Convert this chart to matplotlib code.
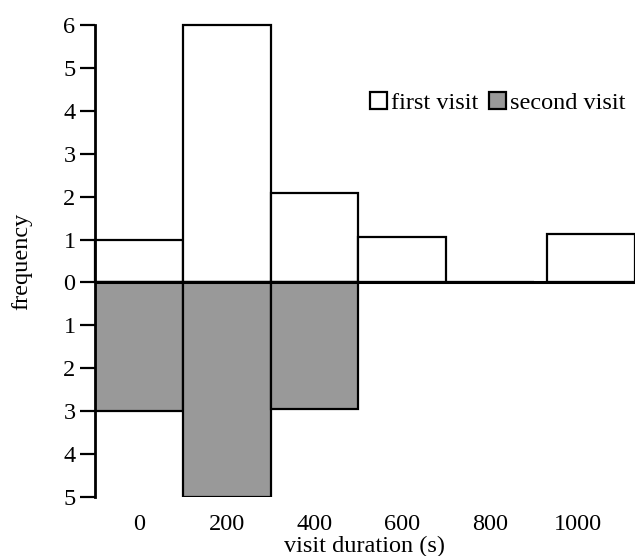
import matplotlib
matplotlib.use("Agg")
import matplotlib.pyplot as plt
from matplotlib.patches import Patch

plt.rcParams['font.family'] = ['Liberation Serif', 'DejaVu Serif']

# data
bin_centers = [0, 200, 400, 600, 800, 1030]
first_visit = [1, 6, 2.08, 1.05, 0, 1.12]
second_centers = [0, 200, 400]
second_visit = [3, 5, 2.95]
x_ticks = [0, 200, 400, 600, 800, 1000]
y_ticks = [-5, -4, -3, -2, -1, 0, 1, 2, 3, 4, 5, 6]
bin_width = 200

FS = 17.5

fig = plt.figure(figsize=(6.35, 5.56), dpi=100)
ax = fig.add_axes([0.1496, 0.106, 0.8504, 0.849])

ax.bar(bin_centers, first_visit, width=bin_width, facecolor='white',
       edgecolor='black', linewidth=1.6, clip_on=False, zorder=2)
ax.bar(second_centers, [-v for v in second_visit], width=bin_width,
       facecolor='#999999', edgecolor='black', linewidth=1.6, zorder=2)
ax.axhline(0, color='black', linewidth=2.2, zorder=3)

ax.set_xlim(-100, 1130)
ax.set_ylim(-5, 6)
ax.set_xticks(x_ticks)
ax.set_xticklabels([str(t) for t in x_ticks])
ax.set_yticks(y_ticks)
ax.set_yticklabels([str(abs(t)) for t in y_ticks])

for s in ['top', 'right', 'bottom']:
    ax.spines[s].set_visible(False)
ax.spines['left'].set_linewidth(2)
ax.spines['left'].set_zorder(4)
ax.tick_params(axis='y', length=11, width=1.6, pad=3, labelsize=FS)
ax.tick_params(axis='x', length=0, pad=12, labelsize=FS)

ax.set_xlabel('visit duration (s)', fontsize=FS, labelpad=1)
ax.set_ylabel('frequency', fontsize=FS, labelpad=22)

handles = [Patch(facecolor='white', edgecolor='black', linewidth=1.6),
           Patch(facecolor='#999999', edgecolor='black', linewidth=1.6)]
ax.legend(handles, ['first visit', 'second visit'], ncol=2, frameon=False,
          fontsize=FS, handlelength=0.7, handleheight=0.7, handletextpad=0.15,
          columnspacing=0.45, loc='center', bbox_to_anchor=(0.746, 0.834))

fig.savefig('out.png', dpi=100)
